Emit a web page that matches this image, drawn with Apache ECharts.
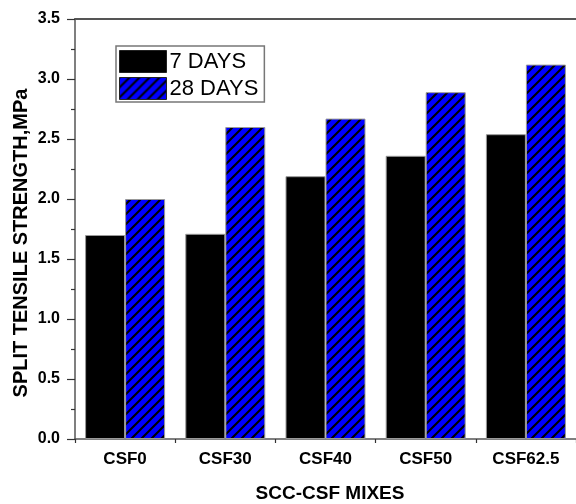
<!DOCTYPE html>
<html>
<head>
<meta charset="utf-8">
<script src="https://cdn.jsdelivr.net/npm/echarts@6/dist/echarts.min.js"></script>
<style>
html,body{margin:0;padding:0;background:#fff;}
#chart{width:576px;height:504px;}
</style>
</head>
<body>
<div id="chart"></div>
<script>
const categories = ['CSF0', 'CSF30', 'CSF40', 'CSF50', 'CSF62.5'];
const days7 = [1.70, 1.71, 2.19, 2.36, 2.54];
const days28 = [2.00, 2.60, 2.67, 2.89, 3.12];
const seriesNames = ['7 DAYS', '28 DAYS'];
const yTickLabels = ['0.0', '0.5', '1.0', '1.5', '2.0', '2.5', '3.0', '3.5'];
const xTitle = 'SCC-CSF MIXES';
const yTitle = 'SPLIT TENSILE STRENGTH,MPa';

const FONT = '"Liberation Sans", Arial, sans-serif';

// hatch pattern: blue with black "/" diagonals
const pc = document.createElement('canvas');
pc.width = 10; pc.height = 10;
const ctx = pc.getContext('2d');
ctx.fillStyle = '#0000FF';
ctx.fillRect(0, 0, 10, 10);
ctx.strokeStyle = '#000';
ctx.lineWidth = 2;
ctx.beginPath();
ctx.moveTo(-1, 11); ctx.lineTo(11, -1);
ctx.moveTo(-6, 6); ctx.lineTo(6, -6);
ctx.moveTo(4, 16); ctx.lineTo(16, 4);
ctx.stroke();
const hatch = { image: pc, repeat: 'repeat' };

const chart = echarts.init(document.getElementById('chart'), null, { renderer: 'canvas' });
chart.setOption({
  backgroundColor: '#fff',
  animation: false,
  grid: { left: 75, top: 19, width: 506, bottom: 65, containLabel: false },
  legend: {
    orient: 'vertical',
    left: 116, top: 46,
    padding: [4, 6, 2, 3],
    itemGap: 4,
    itemWidth: 47, itemHeight: 22,
    icon: 'rect',
    borderColor: '#777', borderWidth: 1.5,
    itemStyle: { borderColor: '#222', borderWidth: 1 },
    textStyle: { fontFamily: FONT, fontSize: 22, color: '#000', lineHeight: 23, padding: [0, 0, 0, -2] },
    data: seriesNames
  },
  xAxis: [
    {
      type: 'category', data: categories, position: 'bottom',
      axisLine: { lineStyle: { color: '#555', width: 1.5 } },
      axisTick: { alignWithLabel: true, length: 8, lineStyle: { color: '#333', width: 1.2 } },
      axisLabel: { fontFamily: FONT, fontSize: 17, fontWeight: 'bold', color: '#000', margin: 12 },
      splitLine: { show: false }
    },
    {
      type: 'category', data: categories, position: 'bottom',
      axisLine: { show: false },
      axisTick: { show: true, length: 4, lineStyle: { color: '#333', width: 1.2 } },
      axisLabel: { show: false },
      splitLine: { show: false }
    },
    {
      type: 'category', data: categories, position: 'top',
      axisLine: { show: true, lineStyle: { color: '#555', width: 2 } },
      axisTick: { show: false },
      axisLabel: { show: false },
      splitLine: { show: false }
    }
  ],
  yAxis: {
    type: 'value', min: 0, max: 3.5, interval: 0.5,
    axisLine: { show: true, lineStyle: { color: '#555', width: 1.5 } },
    axisTick: { show: true, length: 8, lineStyle: { color: '#333', width: 1.2 } },
    minorTick: { show: true, splitNumber: 2, length: 4, lineStyle: { color: '#333', width: 1.2 } },
    axisLabel: {
      fontFamily: FONT, fontSize: 16, fontWeight: 'bold', color: '#000', margin: 15,
      formatter: (v) => yTickLabels[Math.round(v / 0.5)] ?? v.toFixed(1)
    },
    splitLine: { show: false }
  },
  graphic: [
    {
      type: 'text', x: 21, y: 243, rotation: Math.PI / 2,
      style: { text: yTitle, font: 'bold 20px ' + FONT, fill: '#000', align: 'center', verticalAlign: 'middle' }
    },
    {
      type: 'text', x: 330, y: 494,
      style: { text: xTitle, font: 'bold 19px ' + FONT, fill: '#000', align: 'center', verticalAlign: 'middle' }
    }
  ],
  series: [
    {
      name: seriesNames[0], type: 'bar', data: days7, barWidth: 40, barGap: '0%',
      itemStyle: { color: '#000', borderColor: '#999', borderWidth: 1 }
    },
    {
      name: seriesNames[1], type: 'bar', data: days28, barWidth: 40, barGap: '0%',
      itemStyle: { color: hatch, borderColor: '#999', borderWidth: 1 }
    }
  ]
});
</script>
</body>
</html>
